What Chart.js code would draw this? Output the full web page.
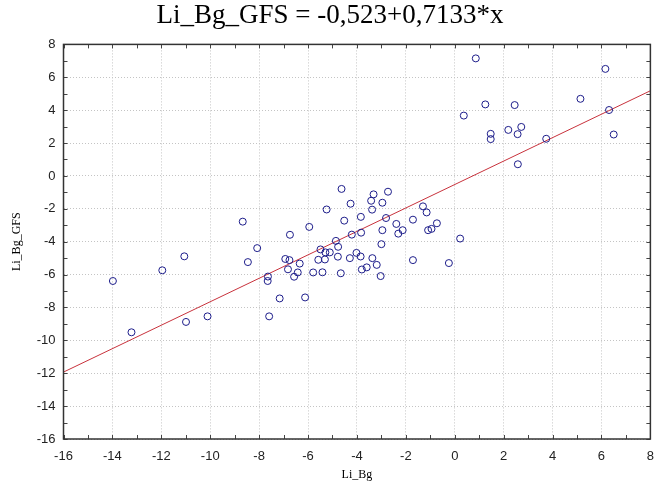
<!DOCTYPE html>
<html>
<head>
<meta charset="utf-8">
<script src="https://cdn.jsdelivr.net/npm/chart.js@4"></script>
<style>
  html, body { margin: 0; padding: 0; background: #fff; }
  #wrap { width: 664px; height: 490px; }
</style>
</head>
<body>
<div id="wrap"><canvas id="chart" width="664" height="490"></canvas></div>
<script>
const liBg = [
  -13.98, -13.22, -11.96, -11.06, -10.99, -10.11, -8.67, -8.46, -8.08, -7.64,
  -7.65, -7.59, -7.16, -6.74, -6.93, -6.76, -6.82, -6.57, -6.42, -6.34,
  -6.12, -5.95, -5.79, -5.58, -5.49, -5.41, -5.31, -5.29, -5.24, -5.11,
  -4.86, -4.77, -4.78, -4.63, -4.66, -4.52, -4.29, -4.26, -4.21, -4.02,
  -3.84, -3.83, -3.85, -3.80, -3.60, -3.42, -3.38, -3.32, -3.37, -3.19,
  -3.03, -3.00, -2.96, -2.96, -2.81, -2.73, -2.39, -2.31, -2.13, -1.71,
  -1.71, -1.30, -1.15, -1.09, -0.95, -0.73, -0.24, 0.22,
  0.86, 6.16, 1.25, 2.45, 5.14, 0.37, 6.31, 2.19, 2.72, 2.57, 1.47, 1.47, 3.74, 6.50, 2.58
];
const liBgGfs = [
  -6.39, -9.51, -5.74, -4.89, -8.88, -8.54, -2.78, -5.24, -4.39, -6.12,
  -6.39, -8.54, -7.45, -3.58, -5.05, -5.12, -5.68, -6.13, -5.87, -5.33,
  -7.39, -3.10, -5.87, -5.10, -4.47, -5.86, -5.08, -4.65, -2.04, -4.65,
  -3.95, -4.31, -4.91, -0.79, -5.92, -2.72, -5.00, -1.69, -3.57, -4.68,
  -2.49, -3.45, -4.90, -5.69, -5.56, -1.51, -2.05, -1.12, -5.00, -5.41,
  -6.09, -4.15, -3.30, -1.63, -2.56, -0.96, -2.92, -3.51, -3.30, -2.66,
  -5.12, -1.85, -2.22, -3.30, -3.22, -2.88, -5.30, -3.81,
  7.15, 6.51, 4.35, 4.31, 4.69, 3.67, 4.01, 2.80, 2.98, 2.54, 2.56, 2.24, 2.26, 2.52, 0.71
];

// fitted line end points (as drawn)
const fitX = [-16, 8];
const fitY = [-11.93, 5.18];

const titleText = 'Li_Bg_GFS = -0,523+0,7133*x';
const xTitle = 'Li_Bg';
const yTitle = 'Li_Bg_GFS';
const axisMin = -16, axisMax = 8, axisStep = 2;

const points = liBg.map((x, i) => ({ x: x, y: liBgGfs[i] }));
const fitLine = fitX.map((x, i) => ({ x: x, y: fitY[i] }));

// box around the plot + small inward ticks on all four sides
const frameTicks = {
  id: 'frameTicks',
  afterDraw(chart) {
    const { ctx, chartArea: a, scales } = chart;
    ctx.save();
    ctx.strokeStyle = '#444';
    ctx.lineWidth = 1;
    for (let v = axisMin; v <= axisMax; v++) {
      const px = Math.round(scales.x.getPixelForValue(v)) + 0.5;
      const py = Math.round(scales.y.getPixelForValue(v)) + 0.5;
      ctx.beginPath();
      ctx.moveTo(px, a.bottom); ctx.lineTo(px, a.bottom - 4);
      ctx.moveTo(px, a.top); ctx.lineTo(px, a.top + 4);
      ctx.moveTo(a.left, py); ctx.lineTo(a.left + 4, py);
      ctx.moveTo(a.right, py); ctx.lineTo(a.right - 4, py);
      ctx.stroke();
    }
    ctx.lineWidth = 1.5;
    ctx.strokeStyle = '#333';
    ctx.strokeRect(a.left, a.top, a.right - a.left, a.bottom - a.top);
    ctx.restore();
  }
};

const tickFont = { family: 'Liberation Sans', size: 13 };

new Chart(document.getElementById('chart'), {
  type: 'scatter',
  data: {
    datasets: [{
      type: 'line',
      data: fitLine,
      borderColor: '#c8323c',
      borderWidth: 1,
      pointRadius: 0,
      fill: false,
      order: 2
    }, {
      data: points,
      pointStyle: 'circle',
      pointRadius: 3.5,
      borderWidth: 1,
      borderColor: '#1c1c8a',
      backgroundColor: 'rgba(255,255,255,0)',
      order: 1
    }]
  },
  options: {
    responsive: false,
    animation: false,
    layout: { padding: { top: 0, right: 4, bottom: 0, left: 0 } },
    plugins: {
      legend: { display: false },
      tooltip: { enabled: false },
      title: {
        display: true,
        text: titleText,
        color: '#000',
        font: { family: 'Liberation Serif', size: 27, weight: 'normal' },
        padding: { top: 0, bottom: 12 }
      }
    },
    scales: {
      x: {
        type: 'linear',
        min: axisMin,
        max: axisMax,
        ticks: { stepSize: axisStep, color: '#222', font: tickFont, padding: 10, maxRotation: 0 },
        grid: { color: '#c4c4c4', drawTicks: false, lineWidth: 1 },
        border: { display: false, dash: [1, 2] },
        title: {
          display: true,
          text: xTitle,
          color: '#000',
          font: { family: 'Liberation Serif', size: 12 },
          padding: { top: 0, bottom: 8 }
        },
        afterFit(scale) { scale.height = 51; }
      },
      y: {
        type: 'linear',
        min: axisMin,
        max: axisMax,
        ticks: { stepSize: axisStep, color: '#222', font: tickFont, padding: 8 },
        grid: { color: '#c4c4c4', drawTicks: false, lineWidth: 1 },
        border: { display: false, dash: [1, 2] },
        title: {
          display: true,
          text: yTitle,
          color: '#000',
          font: { family: 'Liberation Serif', size: 12 },
          padding: { top: 10, bottom: 0 }
        },
        afterFit(scale) { scale.width = 63.5; }
      }
    }
  },
  plugins: [frameTicks]
});
</script>
</body>
</html>
